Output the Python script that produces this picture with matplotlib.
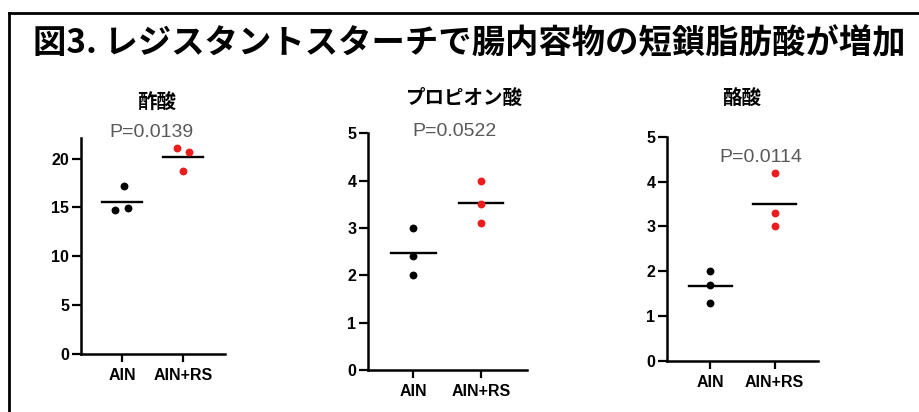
import matplotlib
matplotlib.use("Agg")
import matplotlib.pyplot as plt
from matplotlib.lines import Line2D
import numpy as np

# ---------------- DATA ---------------- #

groups = ["AIN", "AIN+RS"]
panel_titles = ["酢酸", "プロピオン酸", "酪酸"]
p_labels = ["P=0.0139", "P=0.0522", "P=0.0114"]

acetic_ain = [17.2, 14.7, 14.9]
acetic_rs = [21.05, 20.7, 18.7]
propionic_ain = [3.0, 2.4, 2.0]
propionic_rs = [4.0, 3.5, 3.1]
butyric_ain = [2.0, 1.7, 1.3]
butyric_rs = [4.2, 3.3, 3.0]

# small horizontal spread of the dots (only first panel has side-by-side dots)
acetic_ain_spread = [0.03, -0.11, 0.105]
acetic_rs_spread = [-0.10, 0.10, 0.0]
no_spread = [0.0, 0.0, 0.0]

yticks_list = [[0, 5, 10, 15, 20], [0, 1, 2, 3, 4, 5], [0, 1, 2, 3, 4, 5]]
ylims = [(0, 22.1), (0, 5), (0, 5)]

# ---------------- FIGURE ---------------- #

cjk = ["Noto Sans CJK JP", "DejaVu Sans"]
latin = ["Liberation Sans", "DejaVu Sans"]

fig = plt.figure(figsize=(9.2, 4.12), dpi=100)

# frame around the whole picture (runs off the right and bottom edges)
fig.add_artist(Line2D([0.0095, 0.0095], [-0.02, 0.9684], color="black", lw=2.0))
fig.add_artist(Line2D([0.0095, 1.02], [0.9684, 0.9684], color="black", lw=2.0))

fig.text(0.0359, 0.893, "図3. レジスタントスターチで腸内容物の短鎖脂肪酸が増加",
         family=cjk, fontsize=24, fontweight="bold", ha="left", va="center")

positions = [
    [0.0880, 0.1408, 0.1565, 0.5243],
    [0.4003, 0.1019, 0.1722, 0.5745],
    [0.7253, 0.1238, 0.1641, 0.5444],
]
title_xy = [(0.1707, 0.750), (0.5054, 0.762), (0.8062, 0.762)]
p_xy = [(0.1641, 0.6772), (0.4935, 0.6803), (0.8268, 0.6172)]

data = [
    (acetic_ain, acetic_rs, acetic_ain_spread, acetic_rs_spread),
    (propionic_ain, propionic_rs, no_spread, no_spread),
    (butyric_ain, butyric_rs, no_spread, no_spread),
]
colors = ["black", "#ec1c1c"]

for i, (ain, rs, sp_ain, sp_rs) in enumerate(data):
    ax = fig.add_axes(positions[i])
    for g, (vals, sp) in enumerate([(ain, sp_ain), (rs, sp_rs)]):
        xs = g + np.array(sp)
        ax.scatter(xs, vals, s=32, color=colors[g], zorder=3, linewidths=0)
        ax.plot([g - 0.33, g + 0.33], [np.mean(vals)] * 2, color="black", lw=1.7, zorder=2)

    ax.set_xlim(-0.67, 1.68)
    ax.set_ylim(*ylims[i])
    ax.set_xticks([0, 1])
    ax.set_xticklabels(groups)
    ax.set_yticks(yticks_list[i])

    for s in ["top", "right"]:
        ax.spines[s].set_visible(False)
    for s in ["left", "bottom"]:
        ax.spines[s].set_linewidth(1.8)
    ax.tick_params(axis="y", length=6.5, width=1.6, pad=2)
    ax.tick_params(axis="x", length=6, width=1.6, pad=4)
    for lab in ax.get_xticklabels() + ax.get_yticklabels():
        lab.set_family(latin)
        lab.set_fontweight("bold")
        lab.set_fontsize(11.5)

    fig.text(title_xy[i][0], title_xy[i][1], panel_titles[i], family=cjk,
             fontsize=14, fontweight="bold", ha="center", va="center")
    fig.text(p_xy[i][0], p_xy[i][1], p_labels[i], family=latin,
             fontsize=14, color="#595959", ha="center", va="center")

plt.savefig("out.png", dpi=100)
plt.close()
